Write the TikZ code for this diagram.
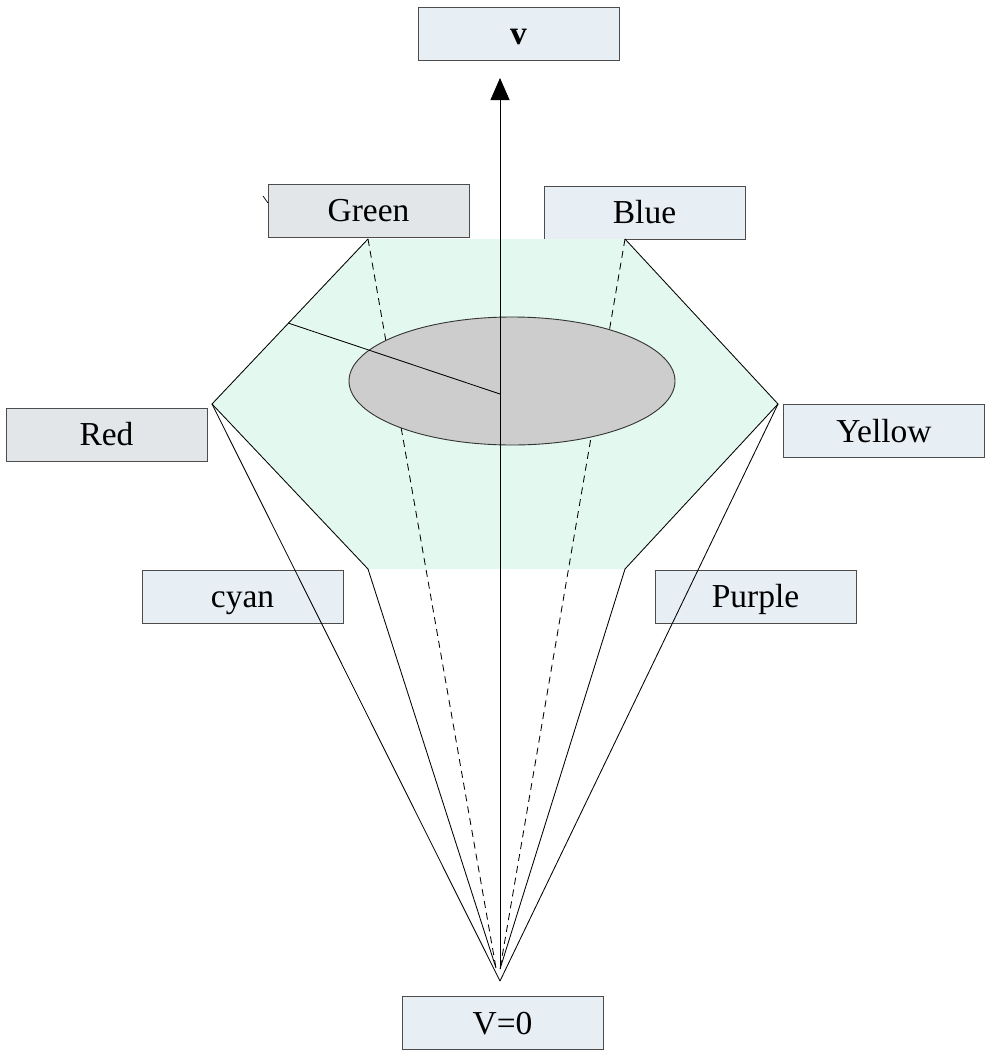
\documentclass[tikz,border=0pt]{standalone}
\usepackage{fontspec}
\setmainfont{Liberation Serif}
\usetikzlibrary{arrows.meta,shapes.geometric}
\definecolor{boxfill}{HTML}{E7EEF4}
\definecolor{boxgray}{HTML}{E2E6E8}
\definecolor{hexfill}{HTML}{E3F8EE}
\definecolor{ellfill}{HTML}{CDCDCD}
\begin{document}
\begin{tikzpicture}[x=1pt,y=-1pt,
  lbl/.style={draw=black!70, line width=0.9pt, fill=boxfill, minimum width=201pt, minimum height=53pt, inner sep=0pt, text height=22pt, text depth=0pt, font=\fontsize{33.5}{36}\selectfont},
  graylbl/.style={lbl, fill=boxgray},
  solidline/.style={line width=0.85pt},
  dashline/.style={line width=0.85pt, dash pattern=on 7pt off 5pt}]
\useasboundingbox (0,0) rectangle (992,1057);
% hexagon vertices
\coordinate (TL) at (368,239);
\coordinate (TR) at (625,239);
\coordinate (R) at (778,404);
\coordinate (BR) at (625,569);
\coordinate (BL) at (368,569);
\coordinate (L) at (212,404);
\coordinate (apex) at (500,981);
\coordinate (apexL) at (496,968);
\coordinate (apexR) at (500,969);
\coordinate (ctr) at (500,394);
\coordinate (top) at (500,78);
\coordinate (rim) at (288,323);
\coordinate (tickA) at (263,196);
\coordinate (tickB) at (268,203);
% labels
\node[lbl] (v) at (518.5,34) {\textbf{v}};
\node[graylbl] (green) at (368.5,210.5) {Green};
\node[lbl] (blue) at (644.5,212.5) {Blue};
\node[graylbl] (red) at (106.5,434.5) {Red};
\node[lbl] (yellow) at (884,431) {Yellow};
\node[lbl] (cyan) at (242.5,596.5) {cyan};
\node[lbl] (purple) at (755.5,596.5) {Purple};
\node[lbl] (v0) at (502.5,1023) {V=0};
\draw[line width=0.7pt] (tickA) -- (tickB);
% hexagon
\fill[hexfill] (TL) -- (TR) -- (R) -- (BR) -- (BL) -- (L) -- cycle;
\draw[solidline] (TR) -- (R) -- (BR);
\draw[solidline] (BL) -- (L) -- (TL);
% solid edges to apex
\draw[solidline] (L) -- (apex);
\draw[solidline] (BL) -- (apexL);
\draw[solidline] (BR) -- (apexR);
\draw[solidline] (R) -- (apex);
% dashed edges
\draw[dashline] (TL) -- (apexL);
\draw[dashline] (TR) -- (apexR);
% ellipse
\node[ellipse, draw=black!80, line width=0.9pt, fill=ellfill, minimum width=326pt, minimum height=128pt, inner sep=0pt] (ell) at (512,381) {};
% vertical arrow
\draw[solidline, -{Triangle[length=22pt,width=19pt]}] (apexR) -- (top);
\draw[solidline] (ctr) -- (rim);
\end{tikzpicture}
\end{document}
